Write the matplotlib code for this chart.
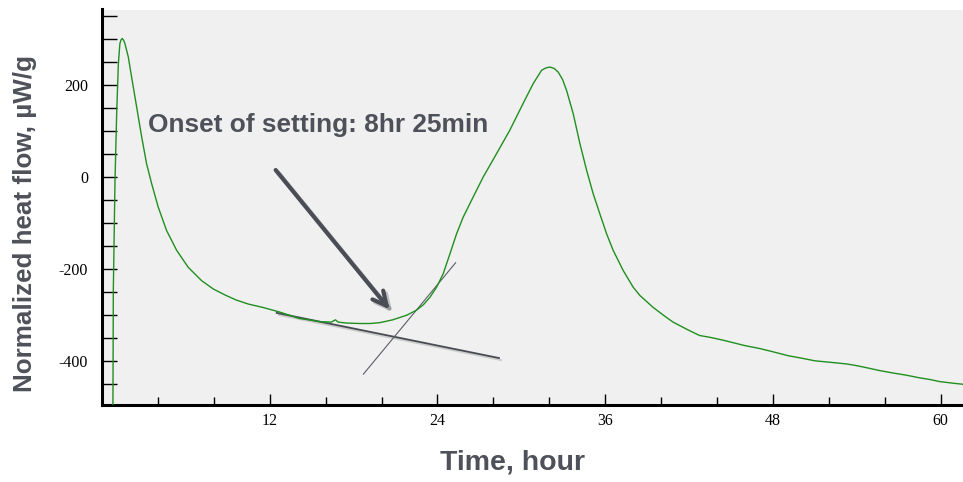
import matplotlib
matplotlib.use('Agg')
import matplotlib.pyplot as plt
import matplotlib.patheffects as pe
from matplotlib.ticker import MultipleLocator

# heat flow curve
time_h = [0.78, 0.81, 0.93, 1.05, 1.17, 1.28, 1.36, 1.45, 1.55, 1.64, 1.88,
          2.12, 2.48, 2.84, 3.19, 3.55, 4.02, 4.62, 5.34, 6.17, 7.13, 7.96,
          8.8, 9.6, 10.5, 11.5, 12.7, 13.5, 14.1, 15.0, 15.6, 16.4, 16.7,
          16.9, 17.5, 18.4, 19.2, 19.9, 20.8, 21.3, 21.8, 22.5, 23.0, 23.46,
          23.94, 24.41, 24.89, 25.37, 25.84, 26.56, 27.27, 28.23, 29.18, 30.13,
          30.85, 31.45, 31.75, 32.04, 32.35, 32.64, 32.95, 33.24, 33.71, 34.19,
          34.67, 35.14, 35.62, 36.1, 36.57, 37.29, 38.0, 38.48, 39.43, 40.3,
          40.86, 41.3, 42.0, 42.75, 43.5, 44.4, 45.2, 46.0, 47.0, 47.95, 49.1,
          50.0, 51.0, 52.0, 52.7, 53.3, 53.9, 54.7, 55.6, 56.5, 57.5, 58.5,
          59.3, 59.9, 60.7, 61.6]
heat_flow = [-520, -246, -7, 138, 246, 290, 298, 301, 297, 290, 261,
             217, 152, 87, 29, -14, -65, -116, -159, -196, -225, -243,
             -256, -267, -276, -283, -293, -301, -307, -311, -314, -315, -310,
             -315, -317, -318, -318, -316, -310, -305, -300, -289, -277, -261,
             -239, -210, -167, -123, -87, -43, 0, 51, 102, 160,
             203, 232, 237, 239, 236, 228, 212, 188, 138, 73,
             15, -36, -80, -123, -159, -203, -239, -257, -283, -303,
             -315, -322, -333, -344, -348, -354, -360, -366, -372, -379, -388,
             -393, -399, -402, -404, -406, -409, -414, -420, -425, -430, -436,
             -440, -444, -447, -450]

# tangent construction lines
base_t = [12.5, 28.4]
base_v = [-295, -393]
rise_t = [18.7, 25.3]
rise_v = [-428, -186]

arrow_tail = (12.3, 20)
arrow_head = (20.7, -292)

x_ticks = [12, 24, 36, 48, 60]
y_ticks = [-400, -200, 0, 200]

plt.rcParams['axes.unicode_minus'] = False
TEXT_GREY = '#4e5159'
LINE_GREY = '#474a52'
LABEL_FONT = 'Liberation Sans'

fig = plt.figure(figsize=(9.63, 4.82), dpi=100)
fig.patch.set_facecolor('white')
ax = fig.add_axes([102 / 963, 77 / 482, 861 / 963, 395.5 / 482])
ax.set_facecolor('#f0f0f0')

ax.plot(time_h, heat_flow, color='#1f8f1f', lw=1.0, zorder=4)

shadow = [pe.SimpleLineShadow(offset=(1.5, -1.5), alpha=0.15), pe.Normal()]
ax.plot(base_t, base_v, color=LINE_GREY, lw=1.3, zorder=3, path_effects=shadow)
ax.plot(rise_t, rise_v, color='#5a5d64', lw=0.8, zorder=3)

ax.annotate('', xy=arrow_head, xytext=arrow_tail,
            arrowprops=dict(arrowstyle='->,head_length=1.0,head_width=0.5',
                            color='#4a4d55', lw=3.0,
                            path_effects=[pe.SimpleLineShadow(offset=(2, -2), alpha=0.2),
                                          pe.Normal()]),
            zorder=5)

ax.text(3.3, 99, 'Onset of setting: 8hr 25min', fontsize=18.9, fontweight='bold',
        color=TEXT_GREY, family=LABEL_FONT, va='baseline', ha='left')

ax.set_xlim(0, 61.6)
ax.set_ylim(-495, 364)

ax.xaxis.set_major_locator(MultipleLocator(12))
ax.xaxis.set_minor_locator(MultipleLocator(4))
ax.yaxis.set_major_locator(MultipleLocator(200))
ax.yaxis.set_minor_locator(MultipleLocator(50))
ax.set_xticks(x_ticks)
ax.set_yticks(y_ticks)

ax.tick_params(axis='both', which='both', direction='in', width=1.0, color='black')
ax.tick_params(axis='x', which='major', length=8, pad=6)
ax.tick_params(axis='x', which='minor', length=6)
ax.tick_params(axis='y', which='major', length=11, pad=10)
ax.tick_params(axis='y', which='minor', length=11)
for lab in ax.get_xticklabels() + ax.get_yticklabels():
    lab.set_family('Liberation Serif')
    lab.set_fontsize(11.5)

for side in ['top', 'right']:
    ax.spines[side].set_visible(False)
for side in ['left', 'bottom']:
    ax.spines[side].set_linewidth(2.2)
    ax.spines[side].set_color('black')

fig.text(25 / 963, 1 - 224 / 482, 'Normalized heat flow, µW/g', rotation=90,
         fontsize=18.7, fontweight='bold', color=TEXT_GREY, family=LABEL_FONT,
         ha='center', va='center')
fig.text(512 / 963, 1 - 463 / 482, 'Time, hour', fontsize=20.5, fontweight='bold',
         color=TEXT_GREY, family=LABEL_FONT, ha='center', va='center')

fig.savefig('out.png', dpi=100)
